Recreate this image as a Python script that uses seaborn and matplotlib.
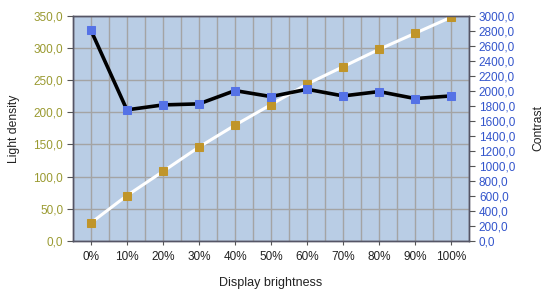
import matplotlib
matplotlib.use("Agg")
import matplotlib.pyplot as plt
import seaborn as sns
import pandas as pd
from matplotlib.ticker import FuncFormatter, MultipleLocator

categories = ["0%", "10%", "20%", "30%", "40%", "50%", "60%", "70%", "80%", "90%", "100%"]
light_density = [28, 70.5, 108, 146, 180, 212, 244, 271, 298, 323, 348]
contrast = [2810, 1747, 1813, 1827, 2004, 1924, 2022, 1933, 1991, 1898, 1933]

sns.set_style("white")
plt.rcParams['font.family'] = ['Liberation Sans', 'DejaVu Sans']

df = pd.DataFrame({"pos": range(len(categories)), "cat": categories,
                   "light": light_density, "contrast": contrast})

fig = plt.figure(figsize=(5.52, 3.0), dpi=100)
ax = fig.add_axes([0.132, 0.197, 0.718, 0.750])
ax.set_facecolor("#b9cde5")

sns.lineplot(data=df, x="pos", y="light", ax=ax, color="white", linewidth=2.2,
             marker="s", markersize=5.5, markerfacecolor="#c0952a", markeredgecolor="#c0952a",
             zorder=3)
ax.set_ylim(0, 350)
ax.set_xlim(-0.5, len(categories) - 0.5)
ax.yaxis.set_major_locator(MultipleLocator(50))
ax.set_xticks(range(len(categories)))
ax.set_xticklabels(categories)
ax.set_xticks([i - 0.5 for i in range(len(categories) + 1)], minor=True)
fmt = FuncFormatter(lambda v, p: f"{v:.1f}".replace(".", ","))
ax.yaxis.set_major_formatter(fmt)
ax.grid(True, which="major", axis="both", color="#a4a4a4", linewidth=1.0)
ax.grid(True, which="minor", axis="x", color="#a4a4a4", linewidth=1.0)
ax.set_axisbelow(True)
ax.tick_params(axis="y", which="major", left=True, length=4, color="#555555",
               labelsize=8.5, labelcolor="#9a9a30", pad=3)
ax.tick_params(axis="x", which="major", bottom=True, length=3, color="#555555",
               labelsize=8.5, labelcolor="#222222", pad=4)
ax.tick_params(axis="x", which="minor", bottom=False)
for s in ax.spines.values():
    s.set_color("#555566")
    s.set_linewidth(1.0)
ax.set_xlabel("Display brightness", fontsize=9, color="#222222", labelpad=10)
ax.set_ylabel("Light density", fontsize=8.7, color="#222222", labelpad=10)

ax2 = ax.twinx()
sns.lineplot(data=df, x="pos", y="contrast", ax=ax2, color="black", linewidth=2.6,
             marker="s", markersize=5.5, markerfacecolor="#5572e6", markeredgecolor="#5572e6",
             zorder=4)
ax2.set_ylim(0, 3000)
ax2.yaxis.set_major_locator(MultipleLocator(200))
ax2.yaxis.set_major_formatter(fmt)
ax2.tick_params(axis="y", right=True, length=4, color="#555555", labelsize=8.5,
                labelcolor="#3355cc", pad=3)
ax2.set_ylabel("Contrast", fontsize=8.7, color="#222222", labelpad=12)
for s in ax2.spines.values():
    s.set_color("#555566")
    s.set_linewidth(1.0)
ax2.set_xlim(-0.5, len(categories) - 0.5)

fig.savefig("out.png", dpi=100)
